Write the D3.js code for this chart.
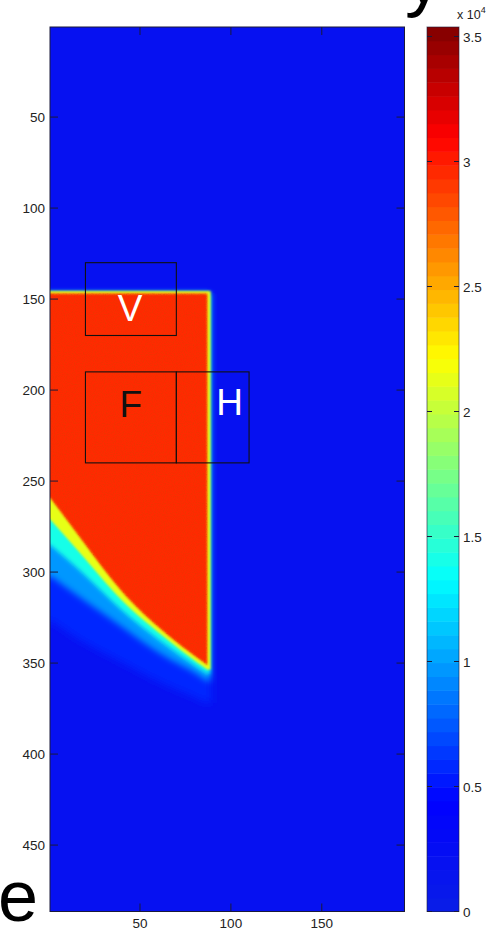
<!DOCTYPE html>
<html>
<head>
<meta charset="utf-8">
<script src="https://cdn.jsdelivr.net/npm/d3@7"></script>
<style>
    html, body { margin: 0; padding: 0; background: #fff; }
    svg { display: block; font-family: "Liberation Sans", Arial, Helvetica, sans-serif; }
</style>
</head>
<body>
<svg width="502" height="931"></svg>
<script>
// image grid (columns x rows)
const nCols = 195;
const nRows = 486;

const xTicks = [50, 100, 150];
const yTicks = [50, 100, 150, 200, 250, 300, 350, 400, 450];
const cTicks = [0, 5000, 10000, 15000, 20000, 25000, 30000, 35000];
const cMax = 35380;

// colormap
const cmapValues = [0, 4400, 13300, 22100, 31000, 35380];
const cmapColors = ["#0a1ee6", "#0000ff", "#00ffff", "#ffff00", "#ff0000", "#800000"];

// field: background level, then bands from outer halo to the core
const backgroundValue = 2200;
const bandValues = [6000, 9500, 14000, 21500, 29600];
const bandTop = [147, 147, 146.4, 145.6, 147];
const bandRight = [89.2, 88.8, 88.6, 88.8, 87];
// lower edge of each band (row) at these columns
const curveCols = [0.5, 20, 40, 60, 76, 87];
const bandBottom = [
    [326, 339, 349.5, 360, 367, 372],
    [302, 316, 330, 344, 353, 360],
    [285, 302, 321, 337, 348.5, 356],
    [271, 293, 315.5, 333, 345.5, 353.5],
    [259, 285, 310.5, 330, 343, 351]
];
// softness of each band edge (px)
const bandBlur = [4, 3, 2, 1.3, 0.9];

// probe boxes [x0, x1, y0, y1] and their letters [col, row, text, colour]
const boxes = [[20, 70, 130, 170], [20, 70, 190, 240], [70, 110, 190, 240]];
const letters = [[44.5, 155, "V", "#fff"], [45, 207.5, "F", "#111"], [99.3, 206.5, "H", "#fff"]];

const svg = d3.select("svg");
const plot = { left: 50, right: 404.5, top: 27, bottom: 911.5 };
const cbar = { left: 427, right: 459 };

const x = d3.scaleLinear().domain([0.5, nCols + 0.5]).range([plot.left, plot.right]);
const y = d3.scaleLinear().domain([0.5, nRows + 0.5]).range([plot.top, plot.bottom]);
const color = d3.scaleLinear().domain(cmapValues).range(cmapColors).clamp(true);
// matlab draws 64 flat levels
const level = v => color((Math.floor(v / cMax * 64) + 0.5) * cMax / 64);

const defs = svg.append("defs");
defs.append("clipPath").attr("id", "plotClip")
    .append("rect")
    .attr("x", plot.left).attr("y", plot.top)
    .attr("width", plot.right - plot.left).attr("height", plot.bottom - plot.top);
bandBlur.forEach((b, i) => {
    defs.append("filter").attr("id", "soft" + i)
        .attr("x", "-20%").attr("y", "-20%").attr("width", "140%").attr("height", "140%")
        .append("feGaussianBlur").attr("stdDeviation", b);
});
// speckle seen in the saturated core
const grain = defs.append("filter").attr("id", "grain")
    .attr("x", 0).attr("y", 0).attr("width", "100%").attr("height", "100%");
grain.append("feTurbulence")
    .attr("type", "fractalNoise").attr("baseFrequency", 0.9).attr("numOctaves", 1).attr("seed", 3);
grain.append("feColorMatrix")
    .attr("type", "matrix")
    .attr("values", "0 0 0 0 0.7  0 0 0 0 0.05  0 0 0 0 0  2 0 0 0 -0.85");
grain.append("feComposite").attr("in2", "SourceGraphic").attr("operator", "in");

const field = svg.append("g").attr("clip-path", "url(#plotClip)");
field.append("rect")
    .attr("x", plot.left).attr("y", plot.top)
    .attr("width", plot.right - plot.left).attr("height", plot.bottom - plot.top)
    .attr("fill", level(backgroundValue));

const curve = d3.line()
    .x(d => x(d[0]))
    .y(d => y(d[1]))
    .curve(d3.curveNatural);

function bandPath(i) {
    const pts = curveCols.map((c, j) => [c, bandBottom[i][j]]).reverse();
    const yb = pts[0][1];
    return `M${x(-6)},${y(bandTop[i])}L${x(bandRight[i])},${y(bandTop[i])}` +
        `L${x(bandRight[i])},${y(yb)}` +
        curve(pts).replace(/^M/, "L") +
        `L${x(-6)},${y(pts[pts.length - 1][1] + 4)}Z`;
}

field.append("g")
    .selectAll("path")
    .data(bandValues)
    .join("path")
    .attr("d", (d, i) => bandPath(i))
    .attr("fill", d => level(d))
    .attr("filter", (d, i) => `url(#soft${i})`);

field.append("path")
    .attr("d", bandPath(bandValues.length - 1))
    .attr("fill", "#000")
    .attr("filter", "url(#grain)")
    .attr("opacity", 0.6);

// probe boxes
field.append("g")
    .selectAll("rect")
    .data(boxes)
    .join("rect")
    .attr("x", d => x(d[0])).attr("y", d => y(d[2]))
    .attr("width", d => x(d[1]) - x(d[0])).attr("height", d => y(d[3]) - y(d[2]))
    .attr("fill", "none")
    .attr("stroke", "#111")
    .attr("stroke-width", 1.1);

field.append("g")
    .selectAll("text")
    .data(letters)
    .join("text")
    .attr("x", d => x(d[0]))
    .attr("y", d => y(d[1]) + 13)
    .attr("text-anchor", "middle")
    .attr("font-size", 37)
    .attr("fill", d => d[3])
    .text(d => d[2]);

// axes box + inward ticks
const axes = svg.append("g").attr("stroke", "#1a1a3a").attr("stroke-width", 1);
axes.append("rect")
    .attr("x", plot.left).attr("y", plot.top)
    .attr("width", plot.right - plot.left).attr("height", plot.bottom - plot.top)
    .attr("fill", "none");
const tickLen = 8;
axes.selectAll(".xt")
    .data(xTicks)
    .join("path")
    .attr("d", d => `M${x(d)},${plot.bottom}v${-tickLen}M${x(d)},${plot.top}v${tickLen}`);
axes.selectAll(".yt")
    .data(yTicks)
    .join("path")
    .attr("d", d => `M${plot.left},${y(d)}h${tickLen}M${plot.right},${y(d)}h${-tickLen}`);

const labels = svg.append("g").attr("font-size", 13.5).attr("fill", "#222");
labels.selectAll(".xl")
    .data(xTicks)
    .join("text")
    .attr("x", d => x(d))
    .attr("y", 928)
    .attr("text-anchor", "middle")
    .text(d => d);
labels.selectAll(".yl")
    .data(yTicks)
    .join("text")
    .attr("x", 45)
    .attr("y", d => y(d) + 5)
    .attr("text-anchor", "end")
    .text(d => d);

// colorbar
const cy = d3.scaleLinear().domain([0, cMax]).range([plot.bottom, plot.top]);
const steps = d3.range(64);
svg.append("g")
    .selectAll("rect")
    .data(steps)
    .join("rect")
    .attr("x", cbar.left)
    .attr("width", cbar.right - cbar.left)
    .attr("y", i => cy((i + 1) * cMax / 64))
    .attr("height", i => cy(i * cMax / 64) - cy((i + 1) * cMax / 64) + 0.5)
    .attr("fill", i => color((i + 0.5) * cMax / 64));

const cAxes = svg.append("g").attr("stroke", "#1a1a3a").attr("stroke-width", 1);
cAxes.append("rect")
    .attr("x", cbar.left).attr("y", plot.top)
    .attr("width", cbar.right - cbar.left).attr("height", plot.bottom - plot.top)
    .attr("fill", "none")
    .attr("stroke-opacity", 0.6);
cAxes.selectAll(".ct")
    .data(cTicks)
    .join("path")
    .attr("d", d => `M${cbar.left},${cy(d)}h5M${cbar.right},${cy(d)}h-5`);

labels.selectAll(".cl")
    .data(cTicks)
    .join("text")
    .attr("x", 463)
    .attr("y", d => cy(d) + 5)
    .text(d => d / 10000);

const expo = svg.append("text")
    .attr("x", 457).attr("y", 19)
    .attr("font-size", 12.5).attr("fill", "#222")
    .text("x 10");
expo.append("tspan").attr("dy", -6).attr("font-size", 9).text("4");

// cut-off words of the surrounding page
svg.append("text").attr("x", 405).attr("y", 3).attr("font-size", 74).attr("fill", "#000").text("y");
svg.append("text").attr("x", -2).attr("y", 921).attr("font-size", 72).attr("fill", "#000").text("e");
</script>
</body>
</html>
